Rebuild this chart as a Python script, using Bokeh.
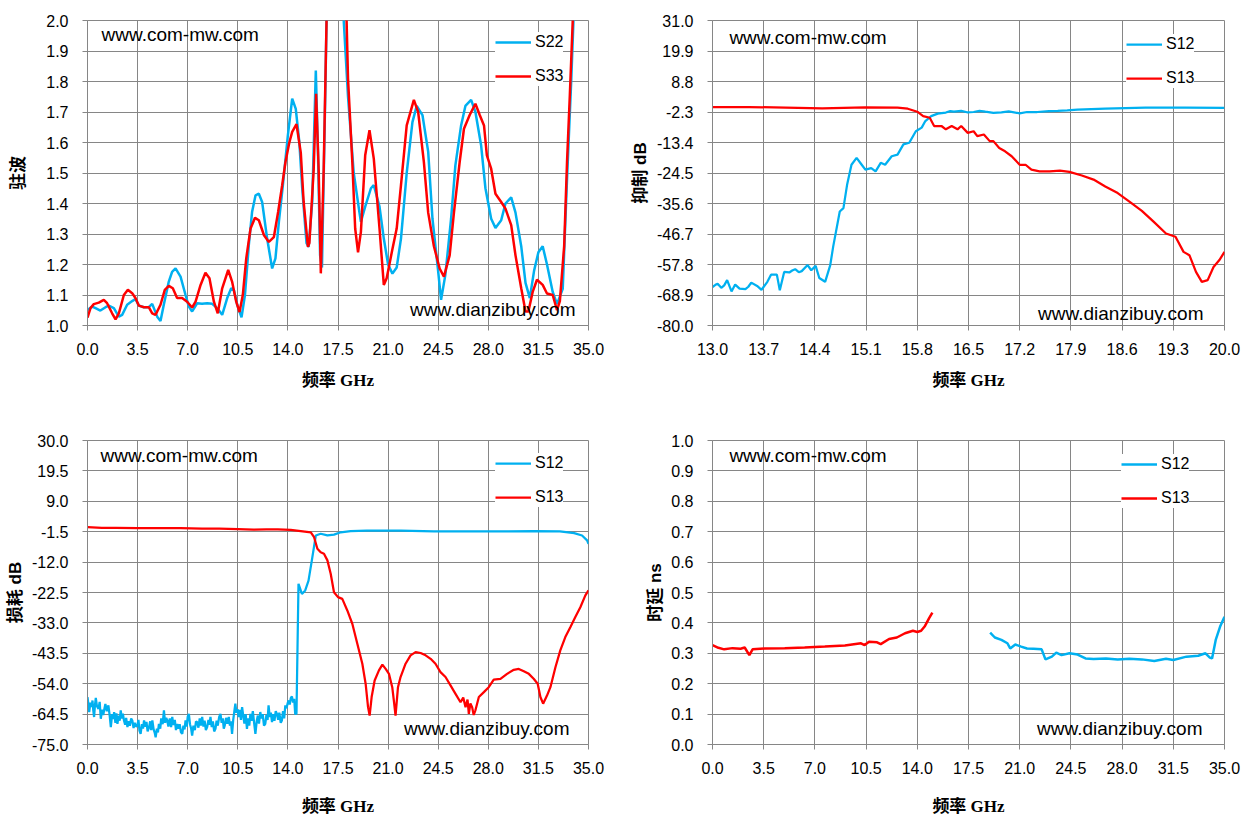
from bokeh.plotting import figure
from bokeh.models import (Range1d, FixedTicker, NumeralTickFormatter, Legend,
                          LegendItem, Label)
from bokeh.layouts import column, row
from bokeh.embed import file_html
from bokeh.resources import INLINE

# ---------------- data ----------------
# Panel 1: VSWR
vswr_s22_f = [0.0,0.33,0.56,0.9,1.26,1.49,1.84,2.19,2.42,2.77,3.12,3.35,3.59,3.94,4.28,4.52,4.87,5.1,5.33,5.68,
              5.91,6.15,6.5,6.85,7.08,7.31,7.66,8.0,8.36,8.71,9.06,9.41,9.76,10.04,10.22,10.46,10.76,11.0,11.27,11.5,
              11.74,11.97,12.2,12.55,12.9,13.13,13.37,13.65,14.0,14.3,14.55,14.8,15.0,15.3,15.45,15.7,15.95,16.1,16.25,16.38,
              16.6,16.7,17.0,17.4,17.9,18.2,18.6,19.0,19.1,19.4,19.8,20.0,20.4,20.7,21.0,21.3,21.6,21.9,22.3,22.7,
              23.0,23.4,23.8,24.1,24.5,24.7,25.0,25.4,25.7,26.1,26.4,26.8,27.1,27.5,27.8,28.2,28.5,28.9,29.2,29.6,
              29.9,30.3,30.6,30.9,31.2,31.5,31.8,32.1,32.5,32.8,33.2,33.5,33.8,33.95,34.3,35.0]
vswr_s22 = [1.051,1.062,1.057,1.049,1.06,1.065,1.057,1.029,1.035,1.068,1.08,1.087,1.065,1.06,1.06,1.071,1.029,1.015,1.068,1.144,
            1.176,1.187,1.16,1.10,1.062,1.046,1.073,1.071,1.073,1.071,1.057,1.035,1.09,1.122,1.117,1.068,1.027,1.10,1.264,1.373,
            1.427,1.432,1.405,1.285,1.187,1.22,1.34,1.46,1.624,1.744,1.71,1.60,1.45,1.27,1.258,1.405,1.836,1.57,1.23,1.19,
            1.73,2.0,2.4,2.5,2.0,1.75,1.50,1.37,1.34,1.39,1.45,1.46,1.39,1.285,1.20,1.17,1.19,1.285,1.50,1.667,
            1.72,1.69,1.57,1.35,1.177,1.084,1.166,1.35,1.525,1.656,1.72,1.74,1.70,1.59,1.45,1.35,1.32,1.345,1.40,1.42,
            1.37,1.26,1.14,1.09,1.18,1.24,1.26,1.20,1.11,1.07,1.12,1.48,1.81,2.0,2.4,2.8]
vswr_s33_f = [0.0,0.21,0.44,0.79,1.14,1.37,1.72,1.96,2.19,2.54,2.82,3.12,3.35,3.59,3.94,4.28,4.52,4.75,5.1,5.4,
              5.68,5.96,6.26,6.61,6.96,7.31,7.55,7.9,8.24,8.52,8.83,9.1,9.41,9.83,10.1,10.39,10.62,10.85,11.09,11.39,
              11.7,11.97,12.33,12.67,13.02,13.32,13.6,13.83,14.1,14.3,14.6,14.9,15.1,15.4,15.5,15.8,15.97,16.15,16.3,16.5,
              16.7,17.0,17.5,18.1,18.2,18.5,18.7,18.9,19.1,19.4,19.7,20.0,20.4,20.7,20.9,21.3,21.6,21.9,22.3,22.8,
              23.1,23.5,23.8,24.2,24.6,24.9,25.3,25.6,26.0,26.3,26.7,27.1,27.4,27.7,27.9,28.2,28.5,28.9,29.2,29.6,
              29.9,30.3,30.6,30.8,31.1,31.4,31.8,32.1,32.5,32.8,33.0,33.3,33.5,33.7,33.9,34.3,35.0]
vswr_s33 = [1.026,1.057,1.07,1.075,1.084,1.073,1.04,1.02,1.04,1.10,1.117,1.106,1.09,1.065,1.06,1.06,1.04,1.035,1.068,1.117,
            1.13,1.122,1.09,1.09,1.078,1.059,1.078,1.133,1.173,1.155,1.078,1.04,1.122,1.182,1.144,1.078,1.044,1.10,1.22,1.318,
            1.353,1.345,1.296,1.274,1.29,1.373,1.46,1.536,1.60,1.635,1.66,1.567,1.405,1.258,1.27,1.51,1.76,1.51,1.171,1.51,
            2.0,2.5,2.6,2.0,1.81,1.536,1.318,1.24,1.307,1.558,1.64,1.547,1.318,1.133,1.155,1.25,1.318,1.46,1.656,1.74,
            1.70,1.536,1.37,1.26,1.187,1.16,1.23,1.37,1.536,1.645,1.69,1.727,1.69,1.656,1.558,1.514,1.432,1.405,1.383,1.329,
            1.23,1.122,1.046,1.046,1.11,1.15,1.133,1.105,1.10,1.05,1.08,1.26,1.536,1.76,2.0,2.5,3.0]

# Panel 2: rejection 13-20 GHz
rej_s12_f = [13.0,13.04,13.07,13.12,13.16,13.2,13.26,13.31,13.37,13.45,13.49,13.53,13.61,13.67,13.75,13.8,13.88,13.92,13.98,14.05,
             14.09,14.13,14.18,14.22,14.3,14.35,14.41,14.46,14.54,14.61,14.65,14.74,14.79,14.84,14.9,14.97,15.04,15.09,15.17,15.23,
             15.3,15.36,15.45,15.53,15.61,15.69,15.78,15.86,15.91,15.99,16.08,16.19,16.25,16.3,16.4,16.48,16.57,16.65,16.73,16.84,
             16.95,17.05,17.2,17.3,17.44,17.6,17.72,17.85,17.99,18.37,18.92,19.47,20.0]
rej_s12 = [-66.0,-65.2,-64.8,-66.3,-65.4,-63.5,-67.6,-65.1,-66.6,-66.8,-65.9,-64.4,-65.6,-67.0,-64.1,-61.5,-61.5,-67.2,-60.5,-60.7,
           -60.0,-59.5,-60.6,-60.2,-58.0,-59.9,-58.3,-62.7,-64.1,-58.0,-51.3,-38.5,-37.3,-28.8,-21.5,-19.0,-21.5,-23.3,-22.7,-23.9,
           -20.8,-21.5,-18.4,-17.8,-14.1,-13.5,-9.3,-8.0,-5.6,-3.8,-2.9,-2.5,-2.0,-2.2,-1.9,-2.4,-2.3,-1.9,-2.2,-2.6,
           -2.4,-2.1,-2.8,-2.3,-2.3,-2.0,-1.9,-1.7,-1.4,-1.1,-0.7,-0.7,-0.8]
rej_s13_f = [13.0,13.5,14.0,14.5,15.09,15.53,15.67,15.8,15.88,15.97,16.03,16.13,16.19,16.27,16.35,16.4,16.49,16.57,16.62,16.71,
             16.79,16.84,16.92,17.0,17.09,17.2,17.28,17.36,17.47,17.61,17.75,17.88,18.05,18.21,18.37,18.54,18.7,18.87,19.03,19.2,
             19.33,19.44,19.52,19.61,19.69,19.77,19.85,19.93,20.0]
rej_s13 = [-0.5,-0.5,-0.7,-1.0,-0.6,-0.7,-1.1,-2.2,-3.8,-4.4,-7.4,-7.4,-8.6,-7.4,-8.6,-7.4,-9.9,-9.3,-11.1,-10.5,
           -12.9,-12.9,-15.4,-16.6,-18.4,-21.5,-21.5,-23.3,-23.9,-23.9,-23.6,-24.1,-25.4,-26.9,-29.4,-31.8,-34.9,-38.3,-42.2,-46.5,
           -47.7,-53.2,-54.4,-60.5,-64.1,-63.5,-58.7,-56.2,-53.2]

# Panel 3: loss 0-35 GHz
loss_s12_f = [0.0,0.06,0.12,0.2,0.28,0.35,0.4,0.46,0.52,0.58,0.66,0.77,0.85,0.93,1.02,1.1,1.16,1.25,1.35,1.46,
              1.55,1.63,1.72,1.8,1.86,1.95,2.02,2.09,2.18,2.25,2.32,2.4,2.47,2.55,2.63,2.7,2.79,2.88,2.96,3.05,
              3.13,3.22,3.3,3.39,3.48,3.56,3.63,3.71,3.8,3.88,3.95,4.05,4.12,4.2,4.3,4.38,4.45,4.53,4.62,4.7,
              4.76,4.85,4.92,4.99,5.08,5.15,5.25,5.34,5.42,5.5,5.57,5.65,5.75,5.84,5.92,6.0,6.1,6.18,6.27,6.35,
              6.44,6.53,6.62,6.7,6.78,6.85,6.93,7.0,7.08,7.16,7.24,7.31,7.4,7.5,7.58,7.66,7.75,7.84,7.92,8.01,
              8.1,8.18,8.27,8.36,8.45,8.52,8.59,8.68,8.76,8.85,8.94,9.02,9.1,9.2,9.29,9.37,9.45,9.52,9.59,9.68,
              9.77,9.87,9.95,10.02,10.1,10.18,10.26,10.33,10.4,10.48,10.56,10.64,10.72,10.8,10.88,10.96,11.05,11.14,11.22,11.3,
              11.38,11.46,11.55,11.64,11.73,11.82,11.9,11.98,12.07,12.15,12.24,12.33,12.42,12.5,12.58,12.65,12.73,12.81,12.89,12.97,
              13.06,13.15,13.23,13.32,13.4,13.5,13.58,13.66,13.74,13.82,13.9,13.98,14.05,14.13,14.2,14.28,14.36,14.44,14.51,14.6,
              14.74,14.98,15.21,15.44,15.67,15.95,16.29,16.76,17.22,17.69,18.38,19.5,21.9,24.2,26.5,28.85,31.2,33.0,34.0,34.55,
              34.9,35.0]
loss_s12 = [-58.6,-61.0,-63.8,-60.5,-62.0,-59.8,-63.0,-65.5,-61.5,-58.9,-61.8,-62.7,-60.3,-66.1,-63.0,-64.8,-63.2,-61.0,-63.5,-61.5,
            -65.0,-69.0,-64.5,-66.2,-63.8,-67.5,-64.2,-67.9,-65.0,-66.8,-63.2,-66.0,-64.4,-66.7,-68.2,-65.8,-69.0,-67.0,-68.5,-66.0,
            -66.7,-69.3,-67.5,-68.8,-68.4,-66.5,-70.2,-71.3,-68.0,-69.5,-66.7,-68.9,-67.2,-70.5,-69.0,-67.0,-70.0,-66.7,-69.8,-71.0,
            -72.5,-69.5,-70.8,-67.9,-69.5,-66.0,-68.0,-63.2,-67.5,-65.8,-66.7,-68.8,-66.0,-69.0,-65.5,-68.2,-66.5,-70.0,-67.9,-69.5,
            -68.0,-70.8,-71.3,-68.5,-69.8,-66.7,-68.8,-65.5,-64.4,-68.0,-69.5,-71.9,-68.5,-70.0,-67.0,-67.3,-69.2,-66.0,-68.5,-65.5,
            -68.8,-66.8,-70.0,-69.0,-66.5,-68.2,-65.5,-69.0,-67.0,-70.5,-69.6,-66.8,-68.5,-65.5,-64.4,-67.5,-66.0,-69.5,-68.4,-65.8,
            -67.8,-65.5,-68.5,-67.0,-71.3,-66.5,-63.5,-60.9,-64.0,-62.8,-65.5,-63.0,-66.5,-62.1,-65.0,-67.8,-64.5,-69.6,-66.0,-68.5,
            -64.4,-66.8,-63.5,-67.5,-71.3,-67.0,-65.0,-67.8,-63.8,-66.0,-64.5,-68.5,-67.9,-64.8,-66.5,-61.5,-65.5,-64.0,-67.3,-64.5,
            -66.8,-63.5,-64.4,-66.5,-64.0,-67.5,-66.7,-63.5,-66.0,-61.5,-62.5,-60.8,-59.8,-61.2,-59.0,-58.4,-60.5,-59.2,-64.4,-64.4,
            -19.5,-23.0,-21.8,-18.4,-11.5,-2.8,-2.2,-2.8,-2.5,-1.7,-1.3,-1.1,-1.1,-1.4,-1.4,-1.4,-1.3,-1.4,-2.0,-2.8,
            -4.5,-5.7]
loss_s13_f = [0.0,1.0,2.0,3.5,5.0,6.5,8.0,9.2,10.5,11.6,12.5,13.3,14.2,14.9,15.6,15.83,16.06,16.29,16.52,16.76,
              16.99,17.22,17.5,17.8,18.15,18.5,18.85,19.2,19.43,19.6,19.71,19.85,20.06,20.36,20.6,20.83,21.06,21.29,21.4,21.52,
              21.69,21.87,22.22,22.57,22.92,23.27,23.62,23.97,24.31,24.66,25.01,25.36,25.71,26.06,26.25,26.41,26.55,26.64,26.75,26.87,
              26.98,27.1,27.34,27.69,28.03,28.38,28.85,29.31,29.78,30.13,30.48,30.83,31.17,31.45,31.64,31.83,32.1,32.34,32.69,33.03,
              33.38,33.73,34.08,34.43,34.78,35.0]
loss_s13 = [0.1,-0.2,-0.2,-0.3,-0.3,-0.3,-0.4,-0.4,-0.6,-0.8,-0.7,-0.7,-0.9,-1.3,-1.7,-3.4,-7.4,-8.6,-9.1,-11.4,
            -16.0,-22.4,-24.1,-24.7,-28.7,-33.3,-40.2,-47.1,-54.0,-62.1,-65.0,-58.6,-52.9,-49.4,-47.4,-48.9,-50.6,-55.2,-59.8,-65.0,
            -55.2,-51.7,-47.1,-44.2,-43.1,-43.4,-44.2,-45.4,-47.1,-50.0,-51.7,-54.6,-57.5,-60.4,-58.8,-62.1,-59.5,-64.4,-60.8,-62.1,
            -64.8,-63.2,-58.6,-56.9,-55.2,-52.6,-52.3,-50.6,-49.2,-48.9,-49.7,-50.6,-52.3,-54.0,-58.6,-60.9,-58.1,-55.2,-48.3,-42.5,
            -37.9,-34.5,-31.0,-27.6,-23.5,-21.8]

# Panel 4: group delay
gd_s13_f = [0.0,0.4,0.8,1.37,1.92,2.2,2.52,2.74,3.57,4.94,6.3,7.68,9.05,10.15,10.4,10.7,11.25,11.5,12.07,12.6,
            13.16,13.7,14.0,14.26,14.5,14.8,15.03]
gd_s13 = [0.327,0.318,0.313,0.317,0.315,0.319,0.294,0.313,0.316,0.317,0.319,0.322,0.326,0.333,0.327,0.338,0.336,0.330,0.347,0.352,
          0.366,0.374,0.370,0.374,0.388,0.415,0.434]
gd_s12_f = [18.98,19.3,19.75,20.16,20.35,20.7,21.1,21.5,21.94,22.5,22.76,23.2,23.5,23.86,24.4,24.96,25.5,26.05,26.9,27.7,
            28.5,29.35,30.2,31.0,31.5,32.4,33.2,33.7,34.0,34.15,34.4,34.7,35.0]
gd_s12 = [0.368,0.352,0.344,0.333,0.316,0.329,0.322,0.316,0.315,0.313,0.280,0.289,0.302,0.294,0.300,0.296,0.283,0.281,0.283,0.280,
          0.282,0.280,0.275,0.282,0.278,0.289,0.292,0.300,0.286,0.283,0.344,0.388,0.420]

# axes
x_ticks_wide = [0.0,3.5,7.0,10.5,14.0,17.5,21.0,24.5,28.0,31.5,35.0]
x_ticks_narrow = [13.0,13.7,14.4,15.1,15.8,16.5,17.2,17.9,18.6,19.3,20.0]
y_ticks_vswr = [1.0,1.1,1.2,1.3,1.4,1.5,1.6,1.7,1.8,1.9,2.0]
y_ticks_rej = [-80.0,-68.9,-57.8,-46.7,-35.6,-24.5,-13.4,-2.3,8.8,19.9,31.0]
y_ticks_loss = [-75.0,-64.5,-54.0,-43.5,-33.0,-22.5,-12.0,-1.5,9.0,19.5,30.0]
y_ticks_gd = [0.0,0.1,0.2,0.3,0.4,0.5,0.6,0.7,0.8,0.9,1.0]

x_title = "频率 GHz"
y_titles = ["驻波", "抑制 dB", "损耗 dB", "时延 ns"]
wm_top = "www.com-mw.com"
wm_bottom = "www.dianzibuy.com"

BLUE = "#00B0F0"
RED = "#FF0000"
GRID = "#868686"
FONT = "'Liberation Sans', sans-serif"
XT_FONT = "'Liberation Serif', 'Noto Sans CJK SC', serif"
YT_FONT = "'Liberation Sans', 'Noto Sans CJK SC', sans-serif"


def make(width, height, borders, xr, yr, xt, yt, ytitle, ylab_standoff, xlab_standoff):
    l, r, t, b = borders
    p = figure(width=width, height=height, output_backend="svg", toolbar_location=None,
               x_range=Range1d(*xr), y_range=Range1d(*yr),
               min_border_left=l, min_border_right=r, min_border_top=t, min_border_bottom=b)
    p.outline_line_color = GRID
    p.background_fill_color = "white"
    p.border_fill_color = "white"
    for ax, ticks in ((p.xaxis[0], xt), (p.yaxis[0], yt)):
        ax.ticker = FixedTicker(ticks=ticks)
        ax.formatter = NumeralTickFormatter(format="0.0")
        ax.axis_line_color = GRID
        ax.major_tick_line_color = GRID
        ax.major_tick_out = 5
        ax.major_tick_in = 0
        ax.minor_tick_line_color = None
        ax.major_label_text_font = FONT
        ax.major_label_text_font_size = "16px"
        ax.major_label_text_color = "black"
        ax.axis_label_text_font_style = "bold"
        ax.axis_label_text_color = "black"
        ax.axis_label_text_font_size = "17px"
    p.xaxis.major_label_standoff = 12
    p.yaxis.major_label_standoff = 14
    p.xaxis.axis_label = x_title
    p.xaxis.axis_label_text_font = XT_FONT
    p.xaxis.axis_label_standoff = xlab_standoff
    p.yaxis.axis_label = ytitle
    p.yaxis.axis_label_text_font = YT_FONT
    p.yaxis.axis_label_standoff = ylab_standoff
    for g, ticks in ((p.xgrid[0], xt), (p.ygrid[0], yt)):
        g.ticker = FixedTicker(ticks=ticks)
        g.grid_line_color = GRID
        g.grid_line_width = 1
    return p


def watermarks(p, xr, yr, top_fx, top_fy, bot_fx, bot_fy):
    xs, xe = xr
    ys, ye = yr
    p.add_layout(Label(x=xs + top_fx * (xe - xs), y=ye - top_fy * (ye - ys), text=wm_top,
                       text_font=FONT, text_font_size="19px", text_color="black",
                       text_align="left", text_baseline="middle"))
    p.add_layout(Label(x=xs + bot_fx * (xe - xs), y=ye - bot_fy * (ye - ys), text=wm_bottom,
                       text_font=FONT, text_font_size="19px", text_color="black",
                       text_align="right", text_baseline="middle"))


def legend(p, items, loc):
    lg = Legend(items=[LegendItem(label=lab, renderers=[r]) for lab, r in items], location=loc,
                border_line_color=None, background_fill_color="white", background_fill_alpha=1.0,
                glyph_width=36, glyph_height=20, label_height=20, label_standoff=4, spacing=14,
                padding=9, margin=0, label_text_font=FONT, label_text_font_size="16px",
                label_text_color="black")
    p.add_layout(lg)


TOP_B = (20, 91)
BOT_B = (24, 77)

# Panel 1
xr1, yr1 = (0, 35), (1.0, 2.0)
p1 = make(620, 416, (87, 32) + TOP_B, xr1, yr1, x_ticks_wide, y_ticks_vswr, y_titles[0], 15, 13)
a = p1.line(vswr_s22_f, vswr_s22, line_color=BLUE, line_width=2.5)
b = p1.line(vswr_s33_f, vswr_s33, line_color=RED, line_width=2.5)
watermarks(p1, xr1, yr1, 0.028, 0.046, 0.974, 0.948)
legend(p1, [("S22", a), ("S33", b)], (408, 239))

# Panel 2
xr2, yr2 = (13.0, 20.0), (-80.0, 31.0)
p2 = make(624, 416, (92, 20) + TOP_B, xr2, yr2, x_ticks_narrow, y_ticks_rej, y_titles[1], 4, 13)
a = p2.line(rej_s12_f, rej_s12, line_color=BLUE, line_width=2.25)
b = p2.line(rej_s13_f, rej_s13, line_color=RED, line_width=2.25)
watermarks(p2, xr2, yr2, 0.033, 0.056, 0.959, 0.961)
legend(p2, [("S12", a), ("S13", b)], (414, 237))

# Panel 3
xr3, yr3 = (0, 35), (-75.0, 30.0)
p3 = make(620, 405, (87, 32) + BOT_B, xr3, yr3, x_ticks_wide, y_ticks_loss, y_titles[2], 4, 20)
a = p3.line(loss_s12_f, loss_s12, line_color=BLUE, line_width=2.25)
b = p3.line(loss_s13_f, loss_s13, line_color=RED, line_width=2.25)
watermarks(p3, xr3, yr3, 0.026, 0.049, 0.962, 0.947)
legend(p3, [("S12", a), ("S13", b)], (408, 237))

# Panel 4
xr4, yr4 = (0, 35), (0.0, 1.0)
p4 = make(624, 405, (92, 20) + BOT_B, xr4, yr4, x_ticks_wide, y_ticks_gd, y_titles[3], 3, 20)
a = p4.line(gd_s12_f, gd_s12, line_color=BLUE, line_width=2.5)
b = p4.line(gd_s13_f, gd_s13, line_color=RED, line_width=2.5)
watermarks(p4, xr4, yr4, 0.033, 0.049, 0.957, 0.947)
legend(p4, [("S12", a), ("S13", b)], (409, 236))

layout = column(row(p1, p2), row(p3, p4))
open("out.html", "w").write(file_html(layout, INLINE))
